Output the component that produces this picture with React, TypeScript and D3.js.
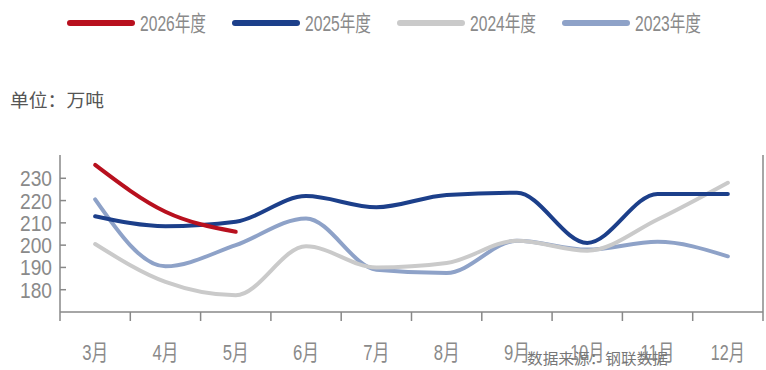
import React from "react";
import * as d3 from "d3";

const months = ["3月", "4月", "5月", "6月", "7月", "8月", "9月", "10月", "11月", "12月"];
const yTicks = [180, 190, 200, 210, 220, 230];
const s2026 = [236, 215, 206];
const s2025 = [213, 208.5, 210.5, 222, 217, 222.5, 223.5, 201, 223, 223];
const s2024 = [200.5, 183.5, 177.5, 199.5, 190, 192, 202, 197.5, 211.5, 228];
const s2023 = [220.5, 190.5, 200, 212, 189, 187.5, 202, 198, 201.5, 195];

const seriesNames = ["2026年度", "2025年度", "2024年度", "2023年度"];
const seriesColors = ["#b8101e", "#1c3f8a", "#cacaca", "#8ea2c8"];

export default function App() {
  const W = 766, H = 370;
  const x = d3.scaleBand<string>().domain(months).range([60, 763]);
  const y = d3.scaleLinear().domain([170, 240]).range([312, 156]);
  const line = d3
    .line<number>()
    .x((_, i) => (x(months[i]) as number) + x.bandwidth() / 2)
    .y((d) => y(d))
    .curve(d3.curveMonotoneX);
  const font = "'Liberation Sans', 'Noto Sans CJK SC', sans-serif";
  const data = [s2026, s2025, s2024, s2023];
  const drawOrder = [3, 2, 1, 0];
  const legendX = [70, 235, 400, 565];
  return (
    <svg width={W} height={H} style={{ position: "absolute", left: 0, top: 0, background: "#fff" }}>
      {seriesNames.map((n, i) => (
        <g key={n}>
          <line x1={legendX[i]} x2={legendX[i] + 62} y1={23} y2={23} stroke={seriesColors[i]} strokeWidth={6} strokeLinecap="round" />
          <text x={legendX[i] + 70} y={31} fontFamily={font} fontSize={22} fill="#8a8a8a" textLength={66} lengthAdjust="spacingAndGlyphs">{n}</text>
        </g>
      ))}
      <text x={10} y={107} fontFamily="'Noto Sans CJK SC', sans-serif" fontSize={18} fill="#555" textLength={94} lengthAdjust="spacingAndGlyphs">单位：万吨</text>
      {/* axes */}
      <line x1={60} x2={60} y1={155} y2={321} stroke="#888" strokeWidth={1.5} />
      <line x1={763} x2={763} y1={155} y2={321} stroke="#888" strokeWidth={1.5} />
      <line x1={60} x2={763} y1={312} y2={312} stroke="#888" strokeWidth={1.5} />
      {months.map((m, i) =>
        i > 0 ? (
          <line key={"t" + m} x1={x(m)} x2={x(m)} y1={312} y2={321} stroke="#888" strokeWidth={1.5} />
        ) : null
      )}
      {yTicks.map((t) => (
        <g key={t}>
          <line x1={60} x2={66} y1={y(t)} y2={y(t)} stroke="#888" strokeWidth={1.5} />
          <text x={52} y={y(t) + 8} textAnchor="end" fontFamily={font} fontSize={22} fill="#8a8a8a" textLength={32} lengthAdjust="spacingAndGlyphs">{t}</text>
        </g>
      ))}
      {months.map((m) => (
        <text key={m} x={(x(m) as number) + x.bandwidth() / 2} y={360} textAnchor="middle" fontFamily={font} fontSize={22} fill="#8a8a8a" textLength={m.length > 2 ? 34 : 26} lengthAdjust="spacingAndGlyphs">{m}</text>
      ))}
      {drawOrder.map((i) => (
        <path key={seriesNames[i]} d={line(data[i]) || ""} fill="none" stroke={seriesColors[i]} strokeWidth={4} strokeLinecap="round" />
      ))}
      <text x={527} y={364} fontFamily="'Noto Sans CJK SC', sans-serif" fontSize={15} fill="#777" textLength={141} lengthAdjust="spacingAndGlyphs">数据来源：钢联数据</text>
    </svg>
  );
}
